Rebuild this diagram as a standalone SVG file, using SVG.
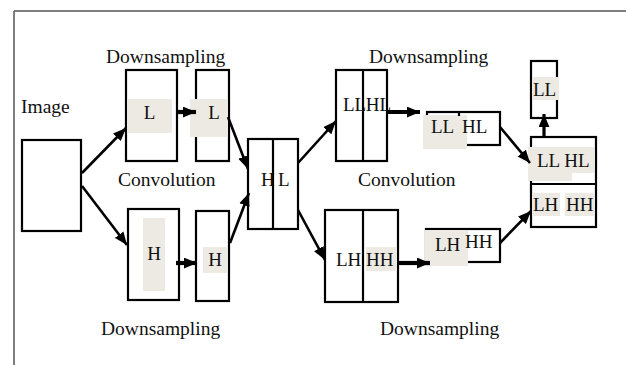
<svg xmlns="http://www.w3.org/2000/svg" width="626" height="365" viewBox="0 0 626 365">
  <style>
    .box { fill: #ffffff; stroke: #000000; stroke-width: 2.2; }
    .div { stroke: #000000; stroke-width: 2.2; fill: none; }
    .shade { fill: #ECEAE2; }
    .lbl { font-family: "Liberation Serif", "Times New Roman", serif; font-size: 19.5px; fill: #111111; }
    .in { font-family: "Liberation Serif", "Times New Roman", serif; font-size: 19px; fill: #111111; }
    .mid { text-anchor: middle; }
    .wire { stroke: #000000; stroke-width: 2.6; fill: none; marker-end: url(#head); }
    .thick { stroke-width: 4.2; }
  </style>
  <defs>
    <marker id="head" viewBox="0 0 12 10" refX="12" refY="5" markerWidth="13" markerHeight="11" markerUnits="userSpaceOnUse" orient="auto">
      <path d="M0,0 L12,5 L0,10 z" fill="#000000"/>
    </marker>
  </defs>

  <rect width="626" height="365" fill="#ffffff"/>

  <!-- page frame -->
  <g id="frame" stroke="#555555" stroke-width="1.5" fill="none">
    <line x1="14" y1="11" x2="626" y2="11"/>
    <line x1="14" y1="11" x2="14" y2="365"/>
  </g>

  <!-- captions -->
  <g id="captions">
    <text class="lbl" x="21" y="113">Image</text>
    <text class="lbl" x="106" y="63">Downsampling</text>
    <text class="lbl" x="369" y="63">Downsampling</text>
    <text class="lbl" x="118" y="186">Convolution</text>
    <text class="lbl" x="358" y="186">Convolution</text>
    <text class="lbl" x="101" y="335">Downsampling</text>
    <text class="lbl" x="380" y="335">Downsampling</text>
  </g>

  <!-- input image -->
  <g id="image">
    <rect class="box" x="22" y="140" width="59" height="91"/>
  </g>

  <!-- low-pass convolution -->
  <g id="conv-L">
    <rect class="box" x="126" y="70" width="51" height="91"/>
    <rect class="shade" x="127" y="99" width="45" height="34"/>
    <text class="in mid" x="149.5" y="119">L</text>
  </g>

  <!-- low-pass downsampled -->
  <g id="down-L">
    <rect class="box" x="196" y="70" width="33" height="91"/>
    <rect class="shade" x="190" y="99" width="38" height="38"/>
    <text class="in mid" x="214" y="119">L</text>
  </g>

  <!-- high-pass convolution -->
  <g id="conv-H">
    <rect class="box" x="128" y="209" width="51" height="91"/>
    <rect class="shade" x="143" y="218" width="22" height="73"/>
    <text class="in mid" x="154" y="260">H</text>
  </g>

  <!-- high-pass downsampled -->
  <g id="down-H">
    <rect class="box" x="196" y="211" width="33" height="90"/>
    <rect class="shade" x="203" y="247" width="24" height="26"/>
    <text class="in mid" x="215" y="266">H</text>
  </g>

  <!-- combined H | L -->
  <g id="HL">
    <rect class="box" x="248" y="139" width="50" height="90"/>
    <line class="div" x1="273" y1="139" x2="273" y2="229"/>
    <text class="in" x="261" y="186">H</text>
    <text class="in" x="278" y="186">L</text>
  </g>

  <!-- LL | HL convolution -->
  <g id="conv-LLHL">
    <rect class="box" x="336" y="70" width="51" height="91"/>
    <line class="div" x1="363" y1="70" x2="363" y2="161"/>
    <text class="in" x="343" y="111" textLength="48" lengthAdjust="spacing">LLHL</text>
  </g>

  <!-- LL HL downsampled -->
  <g id="down-LLHL">
    <rect class="box" x="427" y="112" width="73" height="33"/>
    <rect class="shade" x="423" y="115" width="44" height="34"/>
    <line class="div" x1="459" y1="112" x2="459" y2="116"/>
    <text class="in" x="431" y="133">LL</text>
    <text class="in" x="462" y="133">HL</text>
  </g>

  <!-- LH | HH convolution -->
  <g id="conv-LHHH">
    <rect class="box" x="325" y="210" width="73" height="92"/>
    <line class="div" x1="363" y1="210" x2="363" y2="302"/>
    <rect class="shade" x="366" y="247" width="31" height="24"/>
    <text class="in" x="336" y="266">LH</text>
    <text class="in" x="366" y="266">HH</text>
  </g>

  <!-- LH HH downsampled -->
  <g id="down-LHHH">
    <rect class="box" x="426" y="229" width="74" height="33"/>
    <rect class="shade" x="425" y="230" width="43" height="36"/>
    <text class="in" x="435" y="251">LH</text>
    <text class="in" x="465" y="248">HH</text>
  </g>

  <!-- four sub-bands -->
  <g id="subbands">
    <rect class="box" x="531" y="137" width="65" height="90"/>
    <line class="div" x1="531" y1="184" x2="596" y2="184"/>
    <rect class="shade" x="528" y="147" width="66" height="26"/>
    <rect class="shade" x="528" y="173" width="44" height="8"/>
    <text class="in" x="537" y="167">LL HL</text>
    <rect class="shade" x="532" y="193" width="28" height="23"/>
    <rect class="shade" x="565" y="193" width="29" height="23"/>
    <text class="in" x="533" y="211">LH</text>
    <text class="in" x="566" y="211">HH</text>
  </g>

  <!-- extracted LL band -->
  <g id="LL">
    <rect class="box" x="531" y="61" width="26" height="57"/>
    <rect class="shade" x="533" y="77" width="26" height="23"/>
    <text class="in" x="533" y="96">LL</text>
  </g>

  <!-- connectors -->
  <g id="connectors">
    <line class="wire" x1="82" y1="173" x2="126" y2="128"/>
    <line class="wire" x1="82" y1="186" x2="127" y2="245"/>
    <line class="wire thick" x1="177" y1="112" x2="196" y2="112"/>
    <line class="wire thick" x1="176" y1="263" x2="197" y2="263"/>
    <line class="wire" x1="228" y1="117" x2="248" y2="169"/>
    <line class="wire" x1="230" y1="243" x2="249" y2="193"/>
    <line class="wire" x1="298" y1="163" x2="336" y2="121"/>
    <line class="wire" x1="298" y1="210" x2="325" y2="260"/>
    <line class="wire thick" x1="387" y1="112" x2="420" y2="112"/>
    <line class="wire thick" x1="398" y1="263" x2="430" y2="263"/>
    <line class="wire" x1="500" y1="127" x2="530" y2="163"/>
    <line class="wire" x1="500" y1="243" x2="531" y2="211"/>
    <line class="wire" x1="544" y1="137" x2="544" y2="114" style="stroke-width:3.2"/>
  </g>
</svg>
